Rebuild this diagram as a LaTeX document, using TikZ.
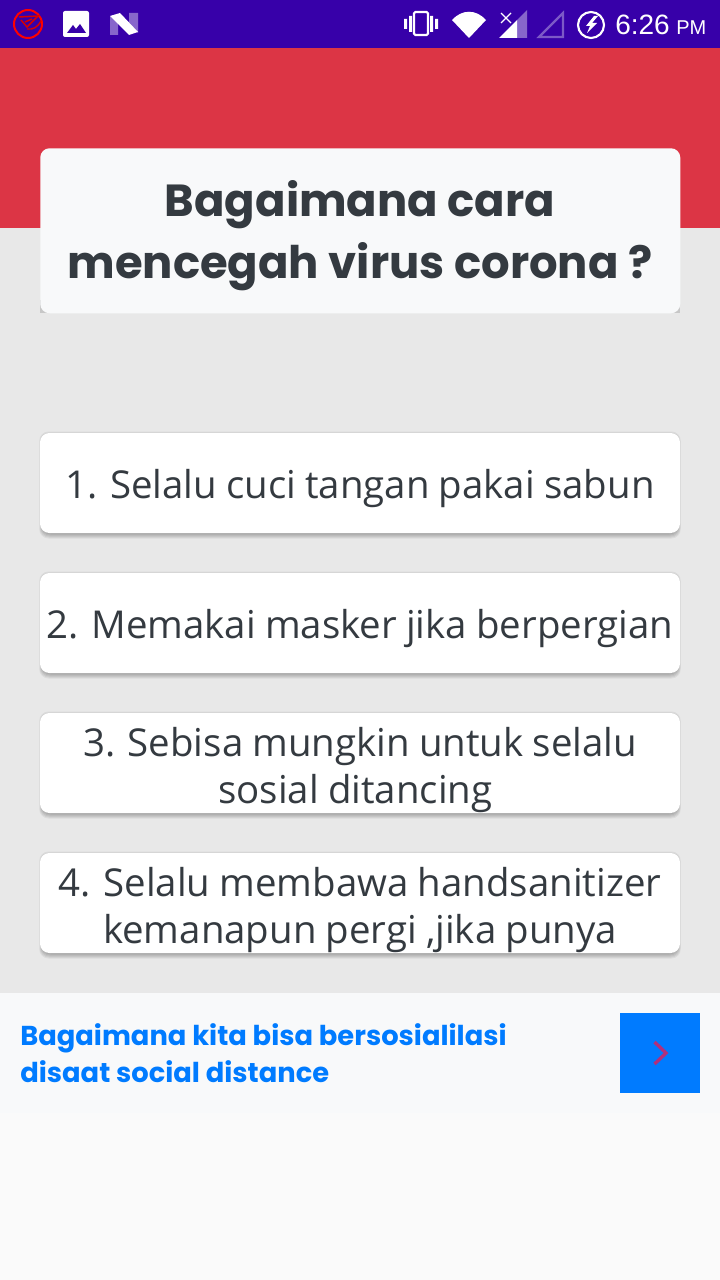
\documentclass[tikz,border=0pt]{standalone}
\usepackage{fontspec}
\setmainfont[WordSpace=0.92]{Open Sans}
\newfontfamily\headfont{Poppins}
\newfontfamily\clockfont{Liberation Sans}
\usetikzlibrary{positioning}
\definecolor{barpurple}{HTML}{3700A9}
\definecolor{topred}{HTML}{DC3545}
\definecolor{pagegray}{HTML}{E8E8E8}
\definecolor{paneltint}{HTML}{F8F9FA}
\definecolor{lowertint}{HTML}{FAFAFA}
\definecolor{inkdark}{HTML}{343A40}
\definecolor{linkblue}{HTML}{007BFF}
\definecolor{arrowtint}{HTML}{B0307D}
\tikzset{
  answer/.style={fill=white,rounded corners=7pt,minimum width=480pt,minimum height=75pt,inner sep=0pt},
  answertext/.style={text=inkdark,align=center,inner sep=0pt,font=\fontsize{28.8}{35.25}\selectfont},
  answershade/.style={fill=black,opacity=0.055,rounded corners=7pt},
  iconwhite/.style={fill=white,draw=none},
  iconfaint/.style={fill=white,fill opacity=0.4,draw=none},
}
\begin{document}
\begin{tikzpicture}[x=0.75pt,y=0.75pt,yscale=-1,xscale=1]
\useasboundingbox (0,0) rectangle (720,1280);

%page areas
\fill[pagegray] (0,0) rectangle (720,1280);
\fill[barpurple] (0,0) rectangle (720,48);
\fill[topred] (0,48) rectangle (720,228);
\fill[paneltint] (0,993) rectangle (720,1113);
\fill[lowertint] (0,1113) rectangle (720,1280);

%status bar left
\draw[red,line width=1.5pt] (28,24) circle (14);
\draw[red!85!black,line width=1.1pt] (19,17) -- (38,16) -- (27,27) -- (21,20) (25,22) -- (32,19) (27,29) .. controls (33,30) and (38,27) .. (41,21);
\fill[iconwhite,rounded corners=1.5pt] (63,11) rectangle (89,37);
\fill[barpurple] (67,33) -- (73,25) -- (76,29) -- (80,24) -- (86,33) -- cycle;
\fill[iconfaint] (110,16) -- (110,35) -- (118,35) -- (118,22) -- cycle;
\fill[iconfaint] (129,13) -- (138,13) -- (138,33) -- (129,24) -- cycle;
\fill[iconwhite] (110,16) -- (120,13) -- (138,32) -- (129,35) -- cycle;

%status bar right
\draw[white,line width=1.6pt,rounded corners=1pt] (414,12) rectangle (428,35);
\fill[iconwhite] (404,19) rectangle (407,29) (409,16) rectangle (412,32) (430,16) rectangle (433,32) (435,19) rectangle (438,29);
\fill[iconwhite] (452,20) .. controls (462,9) and (476,9) .. (486,20) -- (469,38) -- cycle;
\fill[iconfaint] (527,10) -- (527,38) -- (517,38) -- (517,20) -- cycle;
\fill[iconwhite] (517,20) -- (517,38) -- (499,38) -- cycle;
\draw[white,line width=0.9pt] (501,13) -- (511,23) (511,13) -- (501,23);
\draw[white,opacity=0.35,line width=1.6pt] (539,37) -- (563,13) -- (563,37) -- cycle;
\draw[white,line width=1.6pt] (591,25) circle (13);
\fill[iconwhite] (594,16) -- (586,26) -- (590,26) -- (587,33) -- (597,23) -- (592,23) -- (598,16) -- cycle;
\node[anchor=base west,inner sep=0pt,text=white,font=\clockfont\fontsize{21}{21}\selectfont] (clocktime) at (615,35) {6:26};
\node[anchor=base west,inner sep=0pt,text=white,font=\clockfont\fontsize{15}{15}\selectfont] (clockpm) at (676,35) {PM};

%title card
\fill[black!22] (40,300) rectangle (680,313);
\node[fill=paneltint,rounded corners=7pt,minimum width=480pt,minimum height=123.75pt,inner sep=0pt,anchor=north west] (titlecard) at (40,148) {};
\node[text=inkdark,align=center,inner sep=0pt,font=\headfont\bfseries\fontsize{33.7}{46.5}\selectfont] (titletext) at (360,236)
  {Bagaimana cara\\mencegah virus corona ?};

%answer cards
\foreach \ytop in {433,573,713,853}{
  \foreach \d in {0.5,1.5,2.5,3.5,4.5,5.5}{
    \fill[answershade] (42-\d/2,\ytop+4-\d) rectangle (678+\d/2,\ytop+100+\d);
  }
}
\node[answer] (answerone) at (360,483) {};
\node[answer] (answertwo) at (360,623) {};
\node[answer] (answerthree) at (360,763) {};
\node[answer] (answerfour) at (360,903) {};
\node[answertext] (textone) at (360,489) {1. Selalu cuci tangan pakai sabun};
\node[answertext] (texttwo) at (360,629) {2. Memakai masker jika berpergian};
\node[answertext] (textthree) at (360,770) {3. Sebisa mungkin untuk selalu\\sosial ditancing\kern 7pt};
\node[answertext] (textfour) at (360,910) {4. Selalu membawa handsanitizer\\kemanapun pergi ,jika punya};

%next section
\node[anchor=north west,inner sep=0pt,text=linkblue,align=left,font=\headfont\bfseries\fontsize{20.5}{27.75}\selectfont] (nextlabel) at (20,1023)
  {Bagaimana kita bisa bersosialilasi\\disaat social distance};
\node[fill=linkblue,minimum size=60pt,inner sep=0pt,anchor=north west] (nextbutton) at (620,1013) {};
\draw[arrowtint,line width=2.5pt] (654.5,1042) -- (666,1053) -- (654.5,1064);

\end{tikzpicture}
\end{document}
